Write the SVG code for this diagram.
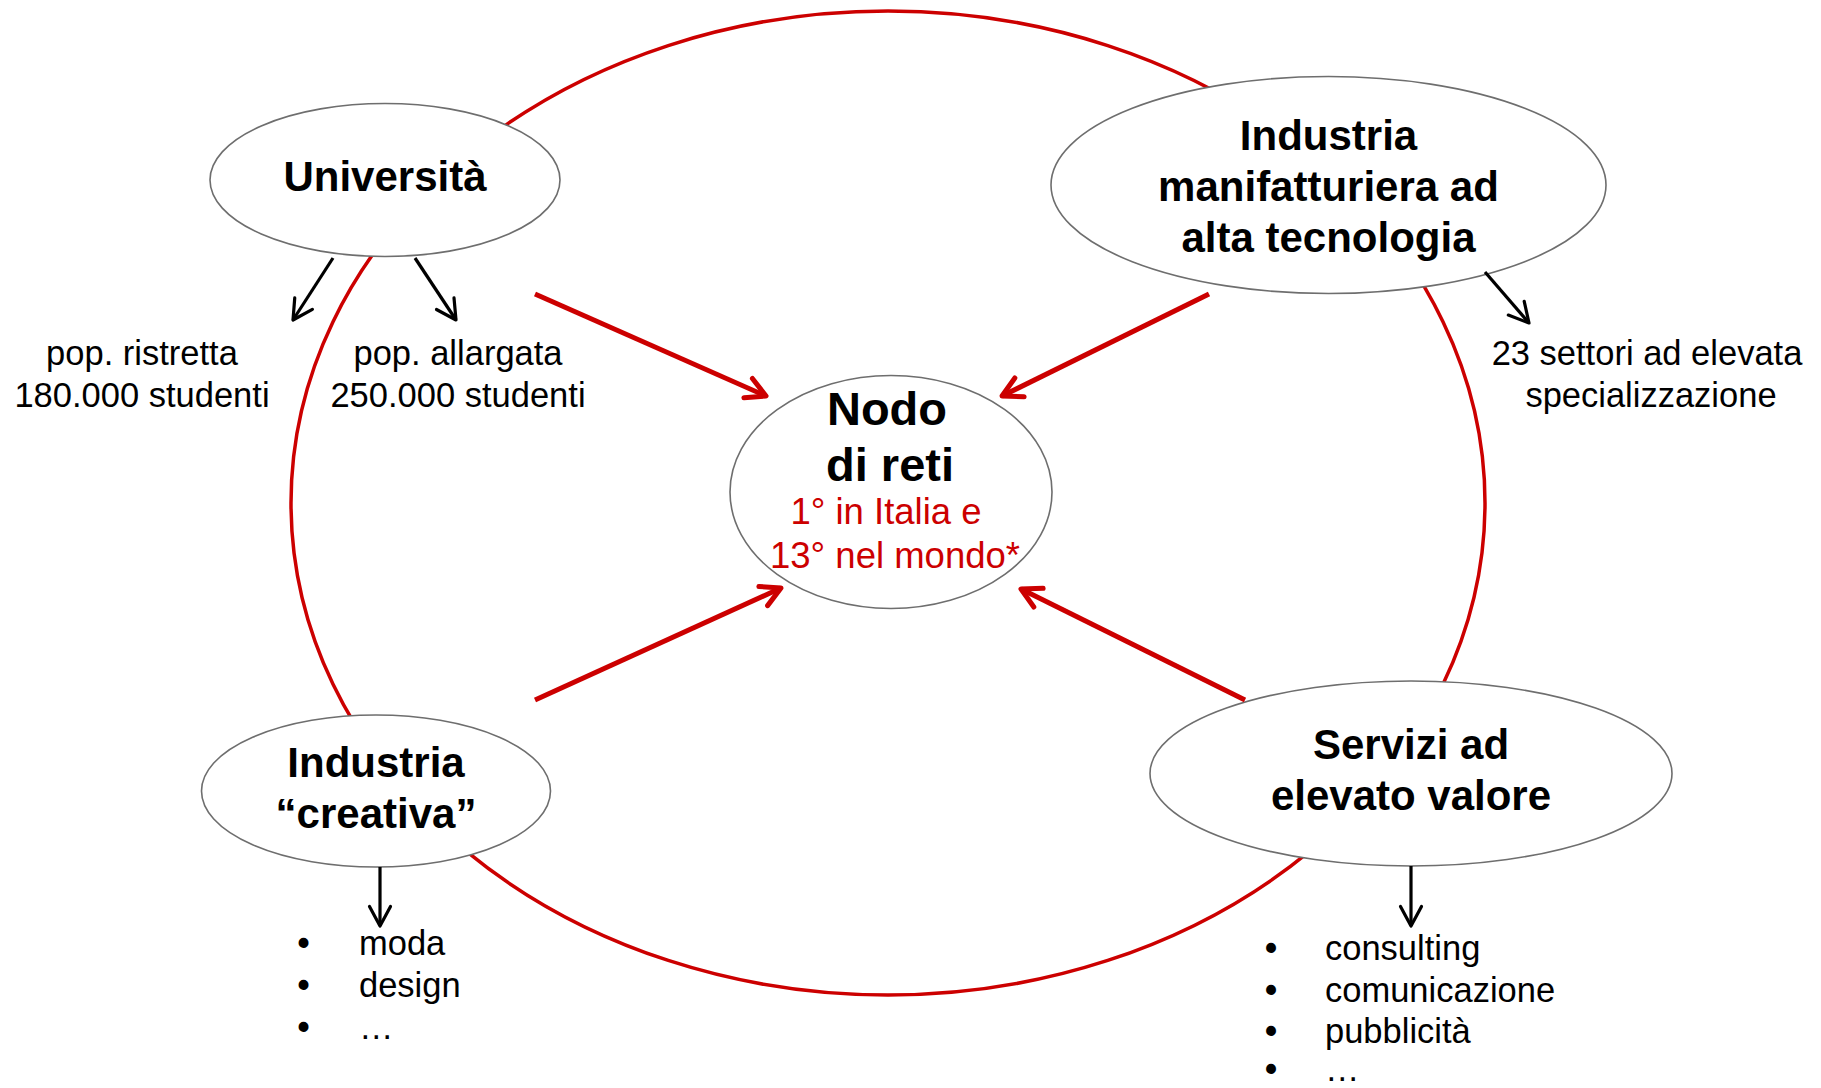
<svg xmlns="http://www.w3.org/2000/svg" width="1821" height="1088" viewBox="0 0 1821 1088">
<defs>
<style>
.node{fill:#fff;stroke:#6e6e6e;stroke-width:1.6}
.ring{fill:none;stroke:#CC0000;stroke-width:3.5}
.red{fill:none;stroke:#CC0000;stroke-width:5}
.blk{fill:none;stroke:#000;stroke-width:3.2}
.t{font-family:"Liberation Sans",Arial,sans-serif;fill:#000}
.b{font-weight:bold;font-size:42px;text-anchor:middle}
.n{font-weight:bold;font-size:47px;text-anchor:middle}
.r{font-size:36.5px;fill:#CC0000;text-anchor:middle}
.l{font-size:34.5px;text-anchor:middle}
.li{font-size:34.5px}
.bu{font-size:34.5px;font-weight:bold}
</style>
<marker id="ahRed" markerUnits="userSpaceOnUse" viewBox="-26 -16 30 32" markerWidth="30" markerHeight="32" refX="0" refY="0" orient="auto" overflow="visible">
<path d="M-19.5,-10.5 L0,0 L-19.5,10.5" fill="none" stroke="#CC0000" stroke-width="5" stroke-linecap="round" stroke-linejoin="round"/>
</marker>
<marker id="ahBlk" markerUnits="userSpaceOnUse" viewBox="-26 -16 30 32" markerWidth="30" markerHeight="32" refX="0" refY="0" orient="auto" overflow="visible">
<path d="M-19.5,-10.5 L0,0 L-19.5,10.5" fill="none" stroke="#000" stroke-width="3.2" stroke-linecap="round" stroke-linejoin="round"/>
</marker>
</defs>
<rect width="1821" height="1088" fill="#fff"/>

<g id="cycle">
<ellipse class="ring" cx="888" cy="503" rx="597" ry="492"/>
</g>

<g id="node-universita">
<ellipse class="node" cx="385" cy="180" rx="175" ry="76.5"/>
<text class="t b" x="385" y="191">Università</text>
</g>

<g id="node-manifatturiera">
<ellipse class="node" cx="1328.5" cy="185" rx="277.5" ry="108.5"/>
<text class="t b" x="1328.5" y="150">Industria</text>
<text class="t b" x="1328.5" y="201">manifatturiera ad</text>
<text class="t b" x="1328.5" y="252">alta tecnologia</text>
</g>

<g id="node-nodo">
<ellipse class="node" cx="891" cy="492" rx="161" ry="116.5"/>
<text class="t n" x="887" y="425">Nodo</text>
<text class="t n" x="890" y="481">di reti</text>
<text class="t r" x="886" y="524">1° in Italia e</text>
<text class="t r" x="895" y="568">13° nel mondo*</text>
</g>

<g id="node-creativa">
<ellipse class="node" cx="376" cy="791" rx="174.5" ry="76"/>
<text class="t b" x="376" y="777">Industria</text>
<text class="t b" x="376" y="828">“creativa”</text>
</g>

<g id="node-servizi">
<ellipse class="node" cx="1411" cy="773.5" rx="261" ry="92.5"/>
<text class="t b" x="1411" y="759">Servizi ad</text>
<text class="t b" x="1411" y="810">elevato valore</text>
</g>

<g id="label-ristretta">
<text class="t l" x="142" y="365">pop. ristretta</text>
<text class="t l" x="142" y="406.5">180.000 studenti</text>
</g>

<g id="label-allargata">
<text class="t l" x="458" y="365">pop. allargata</text>
<text class="t l" x="458" y="406.5">250.000 studenti</text>
</g>

<g id="label-settori">
<text class="t l" x="1647" y="365">23 settori ad elevata</text>
<text class="t l" x="1651" y="406.5">specializzazione</text>
</g>

<g id="list-creativa">
<text class="t bu" x="297.5" y="955">•</text><text class="t li" x="359" y="955">moda</text>
<text class="t bu" x="297.5" y="997">•</text><text class="t li" x="359" y="997">design</text>
<text class="t bu" x="297.5" y="1039">•</text><text class="t li" x="359" y="1039">…</text>
</g>

<g id="list-servizi">
<text class="t bu" x="1265" y="960">•</text><text class="t li" x="1325" y="960">consulting</text>
<text class="t bu" x="1265" y="1001.5">•</text><text class="t li" x="1325" y="1001.5">comunicazione</text>
<text class="t bu" x="1265" y="1042.5">•</text><text class="t li" x="1325" y="1042.5">pubblicità</text>
<text class="t bu" x="1265" y="1081">•</text><text class="t li" x="1325" y="1081">…</text>
</g>

<g id="connectors">
<path class="red" d="M535,294 L766,396" marker-end="url(#ahRed)"/>
<path class="red" d="M1209,294 L1002,396" marker-end="url(#ahRed)"/>
<path class="red" d="M535,700 L781,588" marker-end="url(#ahRed)"/>
<path class="red" d="M1245,700 L1021,589" marker-end="url(#ahRed)"/>
<path class="blk" d="M333,258 L293,320" marker-end="url(#ahBlk)"/>
<path class="blk" d="M415,258 L456,320" marker-end="url(#ahBlk)"/>
<path class="blk" d="M1485,272 L1529,323" marker-end="url(#ahBlk)"/>
<path class="blk" d="M380,867 L380,926" marker-end="url(#ahBlk)"/>
<path class="blk" d="M1411,866 L1411,926" marker-end="url(#ahBlk)"/>
</g>
</svg>
